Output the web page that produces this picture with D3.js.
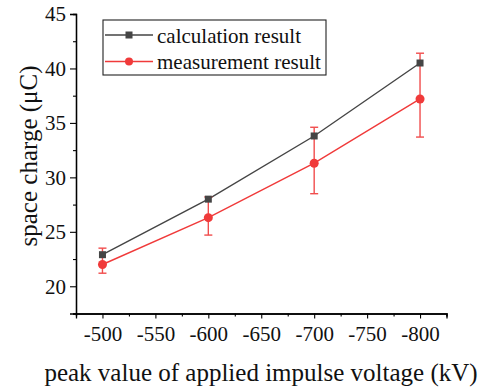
<!DOCTYPE html>
<html>
<head>
<meta charset="utf-8">
<script src="https://cdn.jsdelivr.net/npm/d3@7/dist/d3.min.js"></script>
<style>
  html, body { margin: 0; padding: 0; background: #fff; }
  svg { display: block; font-family: "Liberation Serif", "Times New Roman", serif; }
</style>
</head>
<body>
<svg id="chart" width="489" height="388"></svg>
<script>
// Peak applied impulse voltage (kV)
const voltages = [-500, -600, -700, -800];
// Space charge (µC)
const calculated = [22.9, 28.0, 33.8, 40.5];
const measured = [22.0, 26.3, 31.3, 37.2];
// Measurement spread: upper and lower bounds of each error bar
const measuredUpper = [23.5, 28.2, 34.6, 41.4];
const measuredLower = [21.2, 24.7, 28.5, 33.7];

const xTicks = [-500, -550, -600, -650, -700, -750, -800];
const yTicks = [20, 25, 30, 35, 40, 45];
const seriesNames = ["calculation result", "measurement result"];

const GRAY = "#454545";
const RED = "#f03a3a";
const SERIF = "'Liberation Serif', 'Times New Roman', serif";

const svg = d3.select("#chart");
const plot = { left: 76, right: 446.5, top: 14, bottom: 313.5 };

const x = d3.scaleLinear().domain([-475, -825]).range([plot.left, plot.right]);
const y = d3.scaleLinear().domain([17.5, 45]).range([plot.bottom, plot.top]);

// Axes: major ticks with labels (plain hyphen minus), minor ticks between them
const fmt = d => String(d);
const xAxis = d3.axisBottom(x).tickValues(xTicks).tickFormat(fmt).tickSize(5).tickPadding(5);
const xMinor = d3.axisBottom(x).tickValues(d3.range(-475, -826, -50)).tickFormat("").tickSize(3);
const yAxis = d3.axisLeft(y).tickValues(yTicks).tickFormat(fmt).tickSize(6).tickPadding(4);
const yMinor = d3.axisLeft(y).tickValues(d3.range(17.5, 45, 5)).tickFormat("").tickSize(3);

function styleAxis(g) {
  g.select(".domain").attr("stroke", "#000").attr("stroke-width", 1.3);
  g.selectAll(".tick line").attr("stroke", "#000").attr("stroke-width", 1.1);
  g.selectAll(".tick text").attr("fill", "#111").style("font-size", "21px").style("font-family", SERIF);
}

svg.append("g").attr("transform", `translate(0,${plot.bottom})`).call(xMinor).call(styleAxis);
const gx = svg.append("g").attr("transform", `translate(0,${plot.bottom})`).call(xAxis).call(styleAxis);
gx.selectAll(".tick text").attr("y", 27).attr("dy", null);
svg.append("g").attr("transform", `translate(${plot.left},0)`).call(yMinor).call(styleAxis);
svg.append("g").attr("transform", `translate(${plot.left},0)`).call(yAxis).call(styleAxis);

// Axis titles
svg.append("text")
  .attr("x", 261).attr("y", 381)
  .attr("text-anchor", "middle").attr("fill", "#111").style("font-size", "25px")
  .text("peak value of applied impulse voltage (kV)");
svg.append("text")
  .attr("transform", "translate(37,156) rotate(-90)")
  .attr("text-anchor", "middle").attr("fill", "#111").style("font-size", "25px")
  .text("space charge (\u03bcC)");

const line = d3.line().x((d, i) => x(voltages[i])).y(d => y(d));

// Calculation series
svg.append("path").datum(calculated).attr("d", line)
  .attr("fill", "none").attr("stroke", GRAY).attr("stroke-width", 1.4);

// Measurement series with error bars
svg.append("path").datum(measured).attr("d", line)
  .attr("fill", "none").attr("stroke", RED).attr("stroke-width", 1.4);

const err = svg.append("g").attr("stroke", RED).attr("stroke-width", 1.4).attr("opacity", 0.9);
voltages.forEach((v, i) => {
  const cx = x(v);
  err.append("line").attr("x1", cx).attr("x2", cx)
    .attr("y1", y(measuredUpper[i])).attr("y2", y(measuredLower[i]));
  [measuredUpper[i], measuredLower[i]].forEach(b => {
    err.append("line").attr("x1", cx - 4).attr("x2", cx + 4).attr("y1", y(b)).attr("y2", y(b));
  });
});

svg.append("g").selectAll("rect").data(calculated).join("rect")
  .attr("x", (d, i) => x(voltages[i]) - 3.5).attr("y", d => y(d) - 3.5)
  .attr("width", 7).attr("height", 7).attr("fill", GRAY);

svg.append("g").selectAll("circle").data(measured).join("circle")
  .attr("cx", (d, i) => x(voltages[i])).attr("cy", d => y(d))
  .attr("r", 4.5).attr("fill", RED);

// Legend
const legend = svg.append("g");
legend.append("rect").attr("x", 103).attr("y", 20).attr("width", 223).attr("height", 55)
  .attr("fill", "#fff").attr("stroke", "#222").attr("stroke-width", 1.1);
const rows = [
  { name: seriesNames[0], color: GRAY, shape: "square", cy: 35 },
  { name: seriesNames[1], color: RED, shape: "circle", cy: 61.5 }
];
rows.forEach(r => {
  legend.append("line").attr("x1", 105).attr("x2", 153).attr("y1", r.cy).attr("y2", r.cy)
    .attr("stroke", r.color).attr("stroke-width", 1.4);
  if (r.shape === "square") {
    legend.append("rect").attr("x", 129 - 3.5).attr("y", r.cy - 3.5).attr("width", 7).attr("height", 7).attr("fill", r.color);
  } else {
    legend.append("circle").attr("cx", 129).attr("cy", r.cy).attr("r", 4).attr("fill", r.color);
  }
  legend.append("text").attr("x", 157).attr("y", r.cy + 7.5).attr("fill", "#111")
    .style("font-size", "21px").text(r.name);
});
</script>
</body>
</html>
